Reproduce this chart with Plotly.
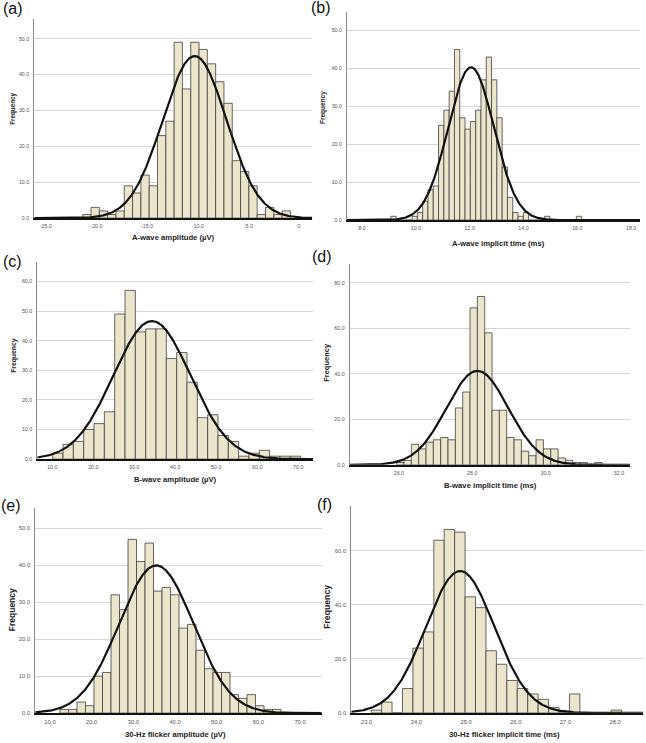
import numpy as np
import plotly.graph_objects as go

W, H = 646, 743
FONT = "Liberation Sans"
FILL = "#EBE5CC"
EDGE = "#404040"

# ---------------- data ----------------
# (a) A-wave amplitude (uV)
a_start, a_width = -21.35, 0.82
a_counts = [1, 3, 2, 1, 2, 9, 7, 12, 9, 23, 27, 49, 36, 49, 47, 43, 38, 32, 16, 13, 9, 1, 3, 1, 2]
a_mean, a_sd = -10.3, 3.15
a_xticks = [-25, -20, -15, -10, -5, 0]
a_xticklabels = ["-25.0", "-20.0", "-15.0", "-10.0", "-5.0", "0"]
a_yticks = [0, 10, 20, 30, 40, 50]

# (b) A-wave implicit time (ms)
b_start, b_width = 9.07, 0.197
b_counts = [1, 0, 0, 0, 1, 2, 5, 8, 9, 25, 29, 34, 45, 27, 24, 26, 29, 37, 43, 37, 27, 14, 6, 2, 1, 2,
            0, 0, 0, 1, 0, 0, 0, 0, 0, 1]
b_mean, b_sd = 12.05, 0.85
b_xticks = [8, 10, 12, 14, 16, 18]
b_xticklabels = ["8.0", "10.0", "12.0", "14.0", "16.0", "18.0"]
b_yticks = [0, 10, 20, 30, 40, 50]

# (c) B-wave amplitude (uV)
c_start, c_width = 10.1, 2.52
c_counts = [2, 5, 6, 10, 12, 16, 49, 57, 43, 44, 44, 34, 36, 26, 14, 15, 8, 6, 1, 2, 3, 1, 1, 1]
c_mean, c_sd = 34.3, 9.4
c_xticks = [10, 20, 30, 40, 50, 60, 70]
c_xticklabels = ["10.0", "20.0", "30.0", "40.0", "50.0", "60.0", "70.0"]
c_yticks = [0, 10, 20, 30, 40, 50, 60]

# (d) B-wave implicit time (ms)
d_start, d_width = 25.94, 0.2
d_counts = [1, 2, 9, 7, 10, 11, 12, 11, 25, 32, 69, 74, 58, 24, 24, 12, 11, 6, 4, 11, 7, 7, 3, 2, 1, 1, 0, 1]
d_mean, d_sd = 28.14, 0.84
d_xticks = [26, 28, 30, 32]
d_xticklabels = ["26.0", "28.0", "30.0", "32.0"]
d_yticks = [0, 20, 40, 60, 80]

# (e) 30-Hz flicker amplitude (uV)
e_start, e_width = 12.4, 2.04
e_counts = [1, 1, 3, 2, 10, 11, 32, 28, 47, 41, 46, 33, 34, 32, 23, 24, 17, 12, 11, 11, 5, 4, 5, 2, 1, 1]
e_mean, e_sd = 35.5, 8.9
e_xticks = [10, 20, 30, 40, 50, 60, 70]
e_xticklabels = ["10.0", "20.0", "30.0", "40.0", "50.0", "60.0", "70.0"]
e_yticks = [0, 10, 20, 30, 40, 50]

# (f) 30-Hz flicker implicit time (ms)
f_start, f_width = 23.09, 0.21
f_counts = [1, 4, 0, 9, 24, 30, 64, 68, 67, 43, 39, 23, 18, 12, 9, 7, 5, 2, 0, 7, 0, 0, 0, 1]
f_mean, f_sd = 24.88, 0.69
f_xticks = [23, 24, 25, 26, 27, 28]
f_xticklabels = ["23.0", "24.0", "25.0", "26.0", "27.0", "28.0"]
f_yticks = [0, 20, 40, 60]

panels = [
    dict(letter="(a)", xlabel="A-wave amplitude (µV)", start=a_start, width=a_width, counts=a_counts,
         mean=a_mean, sd=a_sd, xticks=a_xticks, xtl=a_xticklabels, yticks=a_yticks,
         xr=[-26.13, 1.31], yr=[0, 55.5], box=(34.3, 19, 312.3, 219),
         letter_pos=(13, 9), xl_pos=(173, 238), fr_pos=(12.3, 109), fr_size=6.3, tick_size=5.3),
    dict(letter="(b)", xlabel="A-wave implicit time (ms)", start=b_start, width=b_width, counts=b_counts,
         mean=b_mean, sd=b_sd, xticks=b_xticks, xtl=b_xticklabels, yticks=b_yticks,
         xr=[7.44, 18.33], yr=[0, 54.9], box=(347, 12, 640, 221),
         letter_pos=(321, 8), xl_pos=(498, 244), fr_pos=(322.5, 108), fr_size=6.5, tick_size=5.3),
    dict(letter="(c)", xlabel="B-wave amplitude (µV)", start=c_start, width=c_width, counts=c_counts,
         mean=c_mean, sd=c_sd, xticks=c_xticks, xtl=c_xticklabels, yticks=c_yticks,
         xr=[6.34, 73.6], yr=[0, 66.6], box=(37.3, 263, 313, 461),
         letter_pos=(12, 263), xl_pos=(175, 481), fr_pos=(13.3, 357), fr_size=6.8, tick_size=5.3),
    dict(letter="(d)", xlabel="B-wave implicit time (ms)", start=d_start, width=d_width, counts=d_counts,
         mean=d_mean, sd=d_sd, xticks=d_xticks, xtl=d_xticklabels, yticks=d_yticks,
         xr=[24.66, 32.3], yr=[0, 88.3], box=(349.7, 265, 630, 466.7),
         letter_pos=(322, 258), xl_pos=(490, 487), fr_pos=(326.3, 364), fr_size=7.5, tick_size=5.3),
    dict(letter="(e)", xlabel="30-Hz flicker amplitude (µV)", start=e_start, width=e_width, counts=e_counts,
         mean=e_mean, sd=e_sd, xticks=e_xticks, xtl=e_xticklabels, yticks=e_yticks,
         xr=[6.47, 75.2], yr=[0, 55.5], box=(35.3, 510, 321.7, 716),
         letter_pos=(11, 508), xl_pos=(175, 737), fr_pos=(11.7, 612), fr_size=8.5, tick_size=5.8),
    dict(letter="(f)", xlabel="30-Hz flicker implicit time (ms)", start=f_start, width=f_width, counts=f_counts,
         mean=f_mean, sd=f_sd, xticks=f_xticks, xtl=f_xticklabels, yticks=f_yticks,
         xr=[22.69, 28.56], yr=[0, 76.7], box=(351.3, 508, 643, 715.7),
         letter_pos=(324, 507), xl_pos=(504, 737), fr_pos=(326.3, 609), fr_size=8.7, tick_size=5.8),
]

fig = go.Figure()
layout = dict(
    width=W, height=H, margin=dict(l=0, r=0, t=0, b=0),
    paper_bgcolor="white", plot_bgcolor="white", showlegend=False,
    font=dict(family=FONT, color="#222"),
)
annotations = []

for i, p in enumerate(panels, start=1):
    xa = "x" if i == 1 else f"x{i}"
    ya = "y" if i == 1 else f"y{i}"
    centers = [p["start"] + p["width"] * (k + 0.5) for k in range(len(p["counts"]))]
    fig.add_trace(go.Bar(
        x=centers, y=p["counts"], width=p["width"],
        marker=dict(color=FILL, line=dict(color=EDGE, width=0.8)),
        xaxis=xa, yaxis=ya, hoverinfo="skip",
    ))
    n = sum(p["counts"])
    xs = np.linspace(p["xr"][0], p["xr"][1], 600)
    ys = n * p["width"] / (p["sd"] * np.sqrt(2 * np.pi)) * np.exp(-0.5 * ((xs - p["mean"]) / p["sd"]) ** 2)
    fig.add_trace(go.Scatter(
        x=xs, y=ys, mode="lines", line=dict(color="#111", width=2.2),
        xaxis=xa, yaxis=ya, hoverinfo="skip",
    ))

    x0, y0, x1, y1 = p["box"]
    layout["xaxis" if i == 1 else f"xaxis{i}"] = dict(
        domain=[x0 / W, x1 / W], anchor=ya, range=p["xr"],
        tickvals=p["xticks"], ticktext=p["xtl"],
        tickfont=dict(family=FONT, size=p["tick_size"], color="#555"),
        showgrid=False, zeroline=False, showline=True, linecolor="#111", linewidth=2,
        ticks="", ticklabelstandoff=2,
    )
    layout["yaxis" if i == 1 else f"yaxis{i}"] = dict(
        domain=[1 - y1 / H, 1 - y0 / H], anchor=xa, range=p["yr"],
        tickvals=p["yticks"], ticktext=[f"{v:.1f}" for v in p["yticks"]],
        tickfont=dict(family=FONT, size=p["tick_size"], color="#555"),
        showgrid=True, gridcolor="#d6d6d6", gridwidth=1,
        zeroline=False, showline=True, linecolor="#8a8a8a", linewidth=1,
        ticks="", ticklabelstandoff=3,
    )
    lx, ly = p["letter_pos"]
    annotations.append(dict(text=p["letter"], x=lx / W, y=1 - ly / H, xref="paper", yref="paper",
                            showarrow=False, xanchor="center", yanchor="middle",
                            font=dict(family=FONT, size=16, color="#111")))
    cx, cy = p["xl_pos"]
    annotations.append(dict(text=f"<b>{p['xlabel']}</b>", x=cx / W, y=1 - cy / H, xref="paper", yref="paper",
                            showarrow=False, xanchor="center", yanchor="middle",
                            font=dict(family=FONT, size=7.7, color="#222")))
    fx, fy = p["fr_pos"]
    annotations.append(dict(text="<b>Frequency</b>", x=fx / W, y=1 - fy / H, xref="paper", yref="paper",
                            showarrow=False, xanchor="center", yanchor="middle", textangle=-90,
                            font=dict(family=FONT, size=p["fr_size"], color="#222")))

layout["annotations"] = annotations
fig.update_layout(**layout)
fig.write_html("out.html")
